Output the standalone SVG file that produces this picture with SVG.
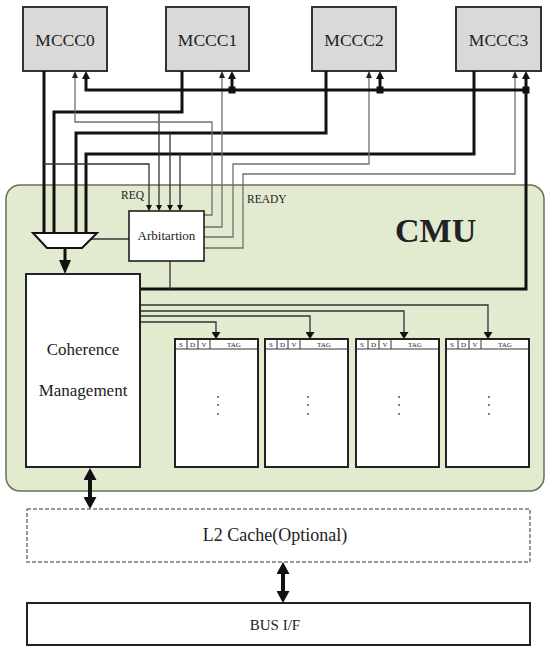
<svg xmlns="http://www.w3.org/2000/svg" width="546" height="647" viewBox="0 0 546 647">
<style>
text{font-family:"Liberation Serif","Times New Roman",serif;fill:#222}
.box{fill:#fff;stroke:#222;stroke-width:2}
.mc{fill:#d9d9d9;stroke:#333;stroke-width:2}
.thick{fill:none;stroke:#111;stroke-width:3}
.thin{fill:none;stroke:#333;stroke-width:1.3}
.gray{fill:none;stroke:#707070;stroke-width:1.3}
.hd{fill:#fff;stroke:#333;stroke-width:1}
.ht{font-size:7px;text-anchor:middle}
.dot{fill:#555}
</style>
<defs>
<marker id="ta" viewBox="0 0 7 6" refX="1" refY="3" markerWidth="7" markerHeight="6" markerUnits="userSpaceOnUse" orient="auto"><path d="M0,0L7,3L0,6z" fill="#222"/></marker>
<marker id="tk" viewBox="0 0 8 8" refX="1" refY="4" markerWidth="8" markerHeight="8" markerUnits="userSpaceOnUse" orient="auto"><path d="M0,0L8,4L0,8z" fill="#111"/></marker>
<marker id="ar" viewBox="0 0 6 6" refX="1" refY="3" markerWidth="6" markerHeight="6" markerUnits="userSpaceOnUse" orient="auto"><path d="M0,0L6,3L0,6z" fill="#111"/></marker>
<marker id="ma" viewBox="0 0 7 9" refX="1" refY="4.5" markerWidth="7" markerHeight="9" markerUnits="userSpaceOnUse" orient="auto"><path d="M0,0L7,4.5L0,9z" fill="#111"/></marker>
<marker id="mx" viewBox="0 0 14 12" refX="1" refY="6" markerWidth="14" markerHeight="12" markerUnits="userSpaceOnUse" orient="auto"><path d="M0,0L14,6L0,12z" fill="#111"/></marker>
<marker id="bd" viewBox="0 0 12 13" refX="1" refY="6.5" markerWidth="12" markerHeight="13" markerUnits="userSpaceOnUse" orient="auto-start-reverse"><path d="M0,0L12,6.5L0,13z" fill="#111"/></marker>
</defs>

<g id="cmu">
<rect x="6" y="185" width="538" height="306" rx="14" fill="#e2eacf" stroke="#66725a" stroke-width="1.5"/>
<text x="395" y="242" font-size="34" font-weight="bold" fill="#111">CMU</text>
</g>

<g id="mccc0"><rect class="mc" x="23" y="7" width="84" height="64"/><text x="65" y="46" font-size="17.5" text-anchor="middle">MCCC0</text></g>
<g id="mccc1"><rect class="mc" x="166" y="7" width="83" height="64"/><text x="207.5" y="46" font-size="17.5" text-anchor="middle">MCCC1</text></g>
<g id="mccc2"><rect class="mc" x="312" y="7" width="84" height="64"/><text x="354" y="46" font-size="17.5" text-anchor="middle">MCCC2</text></g>
<g id="mccc3"><rect class="mc" x="456" y="7" width="85" height="64"/><text x="498.5" y="46" font-size="17.5" text-anchor="middle">MCCC3</text></g>

<g id="connectors">
<!-- data lines into mux -->
<path class="thick" d="M44,71V233"/>
<path class="thick" d="M182,71V112H54V233"/>
<path class="thick" d="M326,71V133H76V233"/>
<path class="thick" d="M474,71V154H86V233"/>
<!-- REQ lines -->
<path class="thin" d="M44,164H149V206" marker-end="url(#ar)"/>
<path class="thin" d="M159,112V206" marker-end="url(#ar)"/>
<path class="thin" d="M170,133V206" marker-end="url(#ar)"/>
<path class="thin" d="M180,154V206" marker-end="url(#ar)"/>
<!-- READY lines -->
<path class="gray" d="M204,215H212V122H75V77" marker-end="url(#ta)"/>
<path class="gray" d="M204,227H222V77" marker-end="url(#ta)"/>
<path class="gray" d="M204,237H233V164H369V77" marker-end="url(#ta)"/>
<path class="gray" d="M204,248H243V174H515V77" marker-end="url(#ta)"/>
<!-- return bus -->
<path class="thick" d="M526,90H86V78" marker-end="url(#tk)"/>
<path class="thick" d="M232,90V78" marker-end="url(#tk)"/>
<path class="thick" d="M380,90V78" marker-end="url(#tk)"/>
<path class="thick" d="M140,289H526V78" marker-end="url(#tk)"/>
<rect x="228.5" y="86.5" width="7" height="7" fill="#111"/>
<rect x="376.5" y="86.5" width="7" height="7" fill="#111"/>
<rect x="522.5" y="86.5" width="7" height="7" fill="#111"/>
<!-- mux / arbitration -->
<path class="thin" d="M91,239H129"/>
<path class="thin" d="M170,261V289"/>
<path class="thick" d="M65,248V261" marker-end="url(#mx)"/>
<!-- to memory blocks -->
<path class="thin" d="M140,305H488V333" marker-end="url(#ma)"/>
<path class="thin" d="M140,311H404V333" marker-end="url(#ma)"/>
<path class="thin" d="M140,316H310V333" marker-end="url(#ma)"/>
<path class="thin" d="M140,322H216V333" marker-end="url(#ma)"/>
<!-- bidirectional -->
<path fill="none" stroke="#111" stroke-width="4" d="M90,479V498" marker-start="url(#bd)" marker-end="url(#bd)"/>
<path fill="none" stroke="#111" stroke-width="4" d="M283,573V592" marker-start="url(#bd)" marker-end="url(#bd)"/>
</g>

<g id="labels">
<text x="121" y="199" font-size="11.5">REQ</text>
<text x="247" y="203" font-size="11.5">READY</text>
</g>

<g id="mux"><polygon points="33,233 97,233 82,248 47,248" fill="#fff" stroke="#111" stroke-width="2"/></g>

<g id="arbitration"><rect x="129" y="211" width="75" height="50" fill="#fff" stroke="#111" stroke-width="1.5"/><text x="166.5" y="240" font-size="13" text-anchor="middle">Arbitartion</text></g>

<g id="coherence"><rect class="box" x="26" y="274" width="114" height="193"/><text x="83" y="355" font-size="17" text-anchor="middle">Coherence</text><text x="83" y="396" font-size="17" text-anchor="middle">Management</text></g>

<g id="mem0">
<rect class="box" x="175" y="339" width="83" height="128"/>
<path class="hd" d="M175,349H258M187,339V349M198,339V349M210,339V349"/>
<text class="ht" x="181" y="347">S</text><text class="ht" x="192.5" y="347">D</text><text class="ht" x="204" y="347">V</text><text class="ht" x="234" y="347">TAG</text>
<circle class="dot" cx="218" cy="397" r="1"/><circle class="dot" cx="218" cy="405" r="1"/><circle class="dot" cx="218" cy="414" r="1"/>
</g>
<g id="mem1">
<rect class="box" x="265" y="339" width="83" height="128"/>
<path class="hd" d="M265,349H348M277,339V349M288,339V349M300,339V349"/>
<text class="ht" x="271" y="347">S</text><text class="ht" x="282.5" y="347">D</text><text class="ht" x="294" y="347">V</text><text class="ht" x="324" y="347">TAG</text>
<circle class="dot" cx="308" cy="397" r="1"/><circle class="dot" cx="308" cy="405" r="1"/><circle class="dot" cx="308" cy="414" r="1"/>
</g>
<g id="mem2">
<rect class="box" x="356" y="339" width="83" height="128"/>
<path class="hd" d="M356,349H439M368,339V349M379,339V349M391,339V349"/>
<text class="ht" x="362" y="347">S</text><text class="ht" x="373.5" y="347">D</text><text class="ht" x="385" y="347">V</text><text class="ht" x="415" y="347">TAG</text>
<circle class="dot" cx="399" cy="397" r="1"/><circle class="dot" cx="399" cy="405" r="1"/><circle class="dot" cx="399" cy="414" r="1"/>
</g>
<g id="mem3">
<rect class="box" x="446" y="339" width="83" height="128"/>
<path class="hd" d="M446,349H529M458,339V349M469,339V349M481,339V349"/>
<text class="ht" x="452" y="347">S</text><text class="ht" x="463.5" y="347">D</text><text class="ht" x="475" y="347">V</text><text class="ht" x="505" y="347">TAG</text>
<circle class="dot" cx="489" cy="397" r="1"/><circle class="dot" cx="489" cy="405" r="1"/><circle class="dot" cx="489" cy="414" r="1"/>
</g>

<g id="l2cache"><rect x="27" y="509" width="503" height="53" fill="#fff" stroke="#777" stroke-width="1.5" stroke-dasharray="4,2"/><text x="275" y="541" font-size="18" text-anchor="middle">L2 Cache(Optional)</text></g>

<g id="busif"><rect x="27" y="603" width="503" height="42" fill="#fff" stroke="#222" stroke-width="2"/><text x="275" y="630" font-size="15" text-anchor="middle">BUS I/F</text></g>
</svg>
